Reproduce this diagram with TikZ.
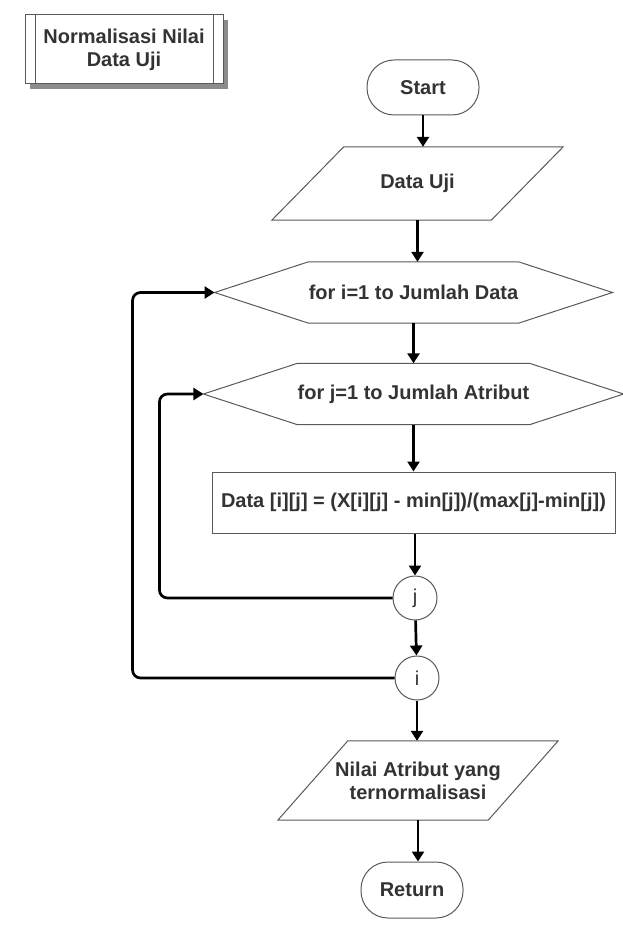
\documentclass[tikz,border=0pt]{standalone}
\usepackage{fontspec}
\setmainfont{Liberation Sans}
\usetikzlibrary{arrows.meta,shadows}

\begin{document}
\begin{tikzpicture}[x=1pt, y=-1pt,
		font=\fontsize{20}{23}\selectfont\bfseries,
		txt/.style={text=black!80, align=center, inner sep=0pt},
		outline/.style={draw=black!65, line width=1pt},
		flow/.style={line width=2.7pt, -{Triangle[length=10pt,width=12pt]}},
		backflow/.style={flow, rounded corners=8pt}]
	\useasboundingbox (0,0) rectangle (622,933);
	\node[txt, outline, fill=white, minimum width=198pt, minimum height=69pt,
		drop shadow={shadow xshift=5pt, shadow yshift=-5pt, fill=black!45, opacity=1}] (title) at (124,49.5) {Normalisasi Nilai\\Data Uji};
	\draw[outline] ([xshift=11pt]title.north west) -- ([xshift=11pt]title.south west);
	\draw[outline] ([xshift=-10pt]title.north east) -- ([xshift=-10pt]title.south east);
	\node[txt, outline, minimum width=112pt, minimum height=55pt, rounded corners=27pt] (start) at (423,87.5) {Start};
	\node[txt, minimum width=219pt, minimum height=73pt] (data) at (417.5,183.5) {Data Uji};
	\draw[outline] ([xshift=-36pt]data.south west) -- ([xshift=-36pt]data.south east) -- ([xshift=36pt]data.north east) -- ([xshift=36pt]data.north west) -- cycle;
	\node[txt, minimum width=191pt, minimum height=61pt] (fori) at (413.5,292.5) {for i=1 to Jumlah Data};
	\draw[outline] (fori.north west) -- (fori.north east) -- ([xshift=94pt]fori.east) -- (fori.south east) -- (fori.south west) -- ([xshift=-94pt]fori.west) -- cycle;
	\node[txt, minimum width=191pt, minimum height=61pt] (forj) at (413.5,394) {for j=1 to Jumlah Atribut};
	\draw[outline] (forj.north west) -- (forj.north east) -- ([xshift=94pt]forj.east) -- (forj.south east) -- (forj.south west) -- ([xshift=-94pt]forj.west) -- cycle;
	\node[txt, outline, minimum width=403pt, minimum height=61pt] (norm) at (413.5,502.5) {Data [i][j] = (X[i][j] - min[j])/(max[j]-min[j])};
	\node[txt, outline, circle, minimum size=44pt, font=\fontsize{20}{23}\selectfont] (endj) at (415,598) {j};
	\node[txt, outline, circle, minimum size=44pt, font=\fontsize{20}{23}\selectfont] (endi) at (417,678) {i};
	\node[txt, minimum width=210pt, minimum height=79pt] (hasil) at (418,780.5) {Nilai Atribut yang\\ternormalisasi};
	\draw[outline] ([xshift=-35pt]hasil.south west) -- ([xshift=-35pt]hasil.south east) -- ([xshift=35pt]hasil.north east) -- ([xshift=35pt]hasil.north west) -- cycle;
	\node[txt, outline, minimum width=102pt, minimum height=56pt, rounded corners=27pt] (ret) at (412,890) {Return};
	\coordinate (fiptr) at ([xshift=-94pt]fori.west);
	\coordinate (fjptr) at ([xshift=-94pt]forj.west);
	\draw[flow] (start.south) -- (start.south |- data.north);
	\draw[flow] (data.south) -- (data.south |- fori.north);
	\draw[flow] (fori.south) -- (forj.north);
	\draw[flow] (forj.south) -- (norm.north);
	\draw[flow] (norm.south -| endj) -- (endj.north);
	\draw[flow] (endj) -- (endi);
	\draw[flow] (endi.south) -- (endi.south |- hasil.north);
	\draw[flow] (hasil.south) -- (hasil.south |- ret.north);
	\draw[backflow] (endj.west) -| ([xshift=-44pt]fjptr) -- (fjptr);
	\draw[backflow] (endi.west) -| ([xshift=-82pt]fiptr) -- (fiptr);
\end{tikzpicture}
\end{document}
